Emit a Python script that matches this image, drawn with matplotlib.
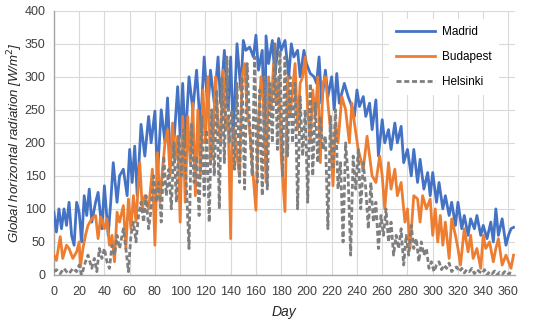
import matplotlib
matplotlib.use("Agg")
import matplotlib.pyplot as plt

madrid_days = [0,2,4,6,8,10,12,14,16,18,20,22,24,26,28,30,33,35,38,40,43,45,47,50,52,55,58,60,62,64,66,69,72,75,77,80,82,85,88,90,92,95,98,100,102,104,107,110,113,116,119,122,124,127,130,132,135,138,140,142,145,148,150,152,155,158,160,162,165,167,168,170,173,175,178,180,183,186,188,190,193,195,198,200,203,206,208,210,212,215,217,220,222,224,226,230,233,235,238,240,242,245,247,250,252,255,257,260,262,265,267,270,272,275,277,280,283,285,288,290,293,296,298,300,303,305,308,310,313,315,318,320,323,325,328,330,333,335,338,340,343,346,348,350,352,355,358,360,362,364]
madrid = [95,65,100,70,100,75,110,60,45,110,95,50,120,90,130,80,110,125,70,135,60,110,170,110,150,160,120,190,140,195,120,228,180,240,200,248,150,250,200,268,180,200,285,210,290,200,300,250,310,220,330,250,310,260,330,260,340,250,330,210,350,280,355,340,345,330,363,310,340,195,362,320,355,300,358,340,355,300,350,330,340,300,340,320,305,300,290,330,260,310,270,300,250,305,260,290,270,260,240,280,255,270,240,260,220,265,180,235,200,220,190,230,200,225,170,190,150,190,140,175,130,155,120,155,110,140,100,120,90,110,75,110,70,90,60,85,70,90,60,75,55,80,50,100,60,85,45,60,70,72]

budapest_pts = [(0,30),(2,22),(5,58),(7,25),(10,45),(12,40),(15,25),(18,35),(20,50),(21,12),(23,40),(25,60),(27,75),(30,85),(33,90),(35,55),(37,88),(40,70),(42,85),(44,45),(46,60),(48,20),(50,95),(52,80),(55,105),(57,40),(59,115),(61,70),(63,120),(65,80),(68,170),(70,100),(72,120),(75,100),(78,160),(80,45),(82,185),(84,110),(86,160),(88,200),(90,220),(92,150),(94,230),(96,175),(98,210),(100,80),(102,240),(104,110),(106,240),(108,170),(110,260),(112,120),(114,250),(116,150),(118,280),(120,200),(122,300),(124,170),(126,200),(128,300),(130,230),(132,200),(134,310),(136,220),(138,240),(140,55),(141,200),(143,220),(145,180),(147,150),(149,300),(151,320),(153,250),(155,220),(157,170),(160,98),(162,230),(164,300),(166,260),(168,140),(170,300),(172,250),(174,320),(176,260),(178,300),(180,180),(183,96),(185,300),(187,240),(189,280),(191,320),(193,220),(195,290),(197,300),(199,330),(201,250),(203,200),(205,280),(207,240),(209,300),(211,170),(213,290),(215,300),(217,260),(219,220),(221,135),(223,230),(225,200),(228,270),(231,250),(234,200),(236,260),(238,230),(241,190),(245,160),(248,210),(250,180),(252,150),(255,140),(258,180),(260,150),(262,100),(265,170),(267,130),(270,160),(272,120),(275,140),(278,80),(280,100),(282,40),(285,120),(288,115),(290,80),(292,120),(295,100),(298,115),(300,60),(302,100),(304,50),(306,90),(308,45),(310,80),(313,25),(315,85),(318,60),(320,40),(322,15),(325,70),(328,35),(330,60),(332,25),(335,40),(338,10),(340,60),(342,40),(345,50),(348,20),(350,40),(352,55),(355,15),(358,30),(360,20),(362,10),(364,30)]

helsinki_pts = [(0,5),(2,8),(5,2),(8,10),(10,5),(12,2),(15,10),(18,5),(20,15),(22,0),(25,20),(27,30),(30,10),(32,25),(34,5),(36,40),(38,25),(40,40),(42,20),(44,10),(46,45),(48,30),(50,60),(52,40),(55,70),(57,40),(59,5),(61,60),(63,80),(65,50),(67,90),(69,110),(71,80),(73,120),(75,70),(77,100),(79,150),(81,110),(83,140),(85,80),(87,180),(89,120),(91,160),(93,100),(95,200),(97,110),(99,210),(101,150),(103,220),(105,130),(107,40),(109,230),(111,140),(113,180),(115,90),(117,240),(119,120),(121,220),(123,80),(125,250),(127,150),(129,280),(131,100),(133,300),(135,170),(137,330),(139,200),(141,250),(143,160),(145,290),(147,140),(149,300),(151,130),(153,320),(155,230),(157,150),(159,330),(161,140),(163,280),(165,120),(167,300),(169,130),(171,290),(173,200),(175,350),(177,190),(179,340),(181,150),(183,330),(185,180),(187,300),(189,200),(191,290),(193,100),(195,270),(197,180),(199,250),(201,110),(203,290),(205,150),(207,260),(209,170),(211,240),(213,190),(215,210),(217,70),(219,240),(221,160),(223,250),(225,130),(227,170),(229,50),(231,200),(233,150),(235,30),(237,180),(239,130),(241,190),(243,100),(245,170),(247,130),(249,70),(251,140),(253,80),(255,110),(257,40),(259,90),(261,60),(263,100),(265,50),(267,80),(269,30),(271,60),(273,40),(275,70),(277,15),(279,60),(281,30),(283,75),(285,40),(287,55),(289,20),(291,50),(293,30),(295,40),(297,10),(299,20),(301,5),(303,15),(305,20),(307,8),(309,15),(311,10),(313,18),(315,5),(317,10),(319,12),(321,5),(323,10),(325,3),(327,8),(329,5),(331,10),(333,2),(335,8),(337,5),(339,2),(341,8),(343,0),(345,5),(347,2),(349,6),(351,0),(353,4),(355,1),(357,5),(359,0),(361,3),(363,2),(364,3)]

x_ticks = list(range(0, 361, 20))
y_ticks = list(range(0, 401, 50))

plt.rcParams['font.family'] = ['Liberation Sans', 'DejaVu Sans']
fig = plt.figure(figsize=(5.5, 3.25), dpi=100)
ax = fig.add_axes([0.098, 0.154, 0.838, 0.813])

bx, by = zip(*budapest_pts)
hx, hy = zip(*helsinki_pts)

ax.plot(madrid_days, madrid, color='#4472C4', lw=2.0, label='Madrid', zorder=3)
ax.plot(bx, by, color='#ED7D31', lw=2.0, label='Budapest', zorder=4)
ax.plot(hx, hy, color='#7F7F7F', lw=2.0, ls=(0, (1.8, 1.0)), label='Helsinki', zorder=5)

ax.set_xlim(0, 365)
ax.set_ylim(0, 400)
ax.set_xticks(x_ticks)
ax.set_yticks(y_ticks)
ax.grid(True, color='#D9D9D9', lw=0.8)
ax.set_axisbelow(True)
ax.tick_params(length=0, labelsize=9, colors='#404040')
ax.tick_params(axis='x', pad=8)
ax.tick_params(axis='y', pad=6)
for s in ['top', 'right']:
    ax.spines[s].set_visible(False)
for s in ['left', 'bottom']:
    ax.spines[s].set_color('#A6A6A6')
    ax.spines[s].set_linewidth(1)

ax.set_xlabel('Day', fontsize=10, style='italic', color='#262626', labelpad=5)
ax.set_ylabel('Global horizontal radiation [W/m$^2$]', fontsize=9.5, style='italic',
              color='#262626', va='center', ha='center')
ax.yaxis.set_label_coords(-0.084, 0.5)

leg = ax.legend(loc='upper right', bbox_to_anchor=(0.978, 0.992), frameon=True, fontsize=8.5,
                handlelength=3.3, labelspacing=1.1, borderpad=0.6, handletextpad=0.6)
leg.get_frame().set_facecolor('white')
leg.get_frame().set_edgecolor('none')
leg.get_frame().set_alpha(1)
leg.set_zorder(10)

fig.savefig('out.png', dpi=100)
